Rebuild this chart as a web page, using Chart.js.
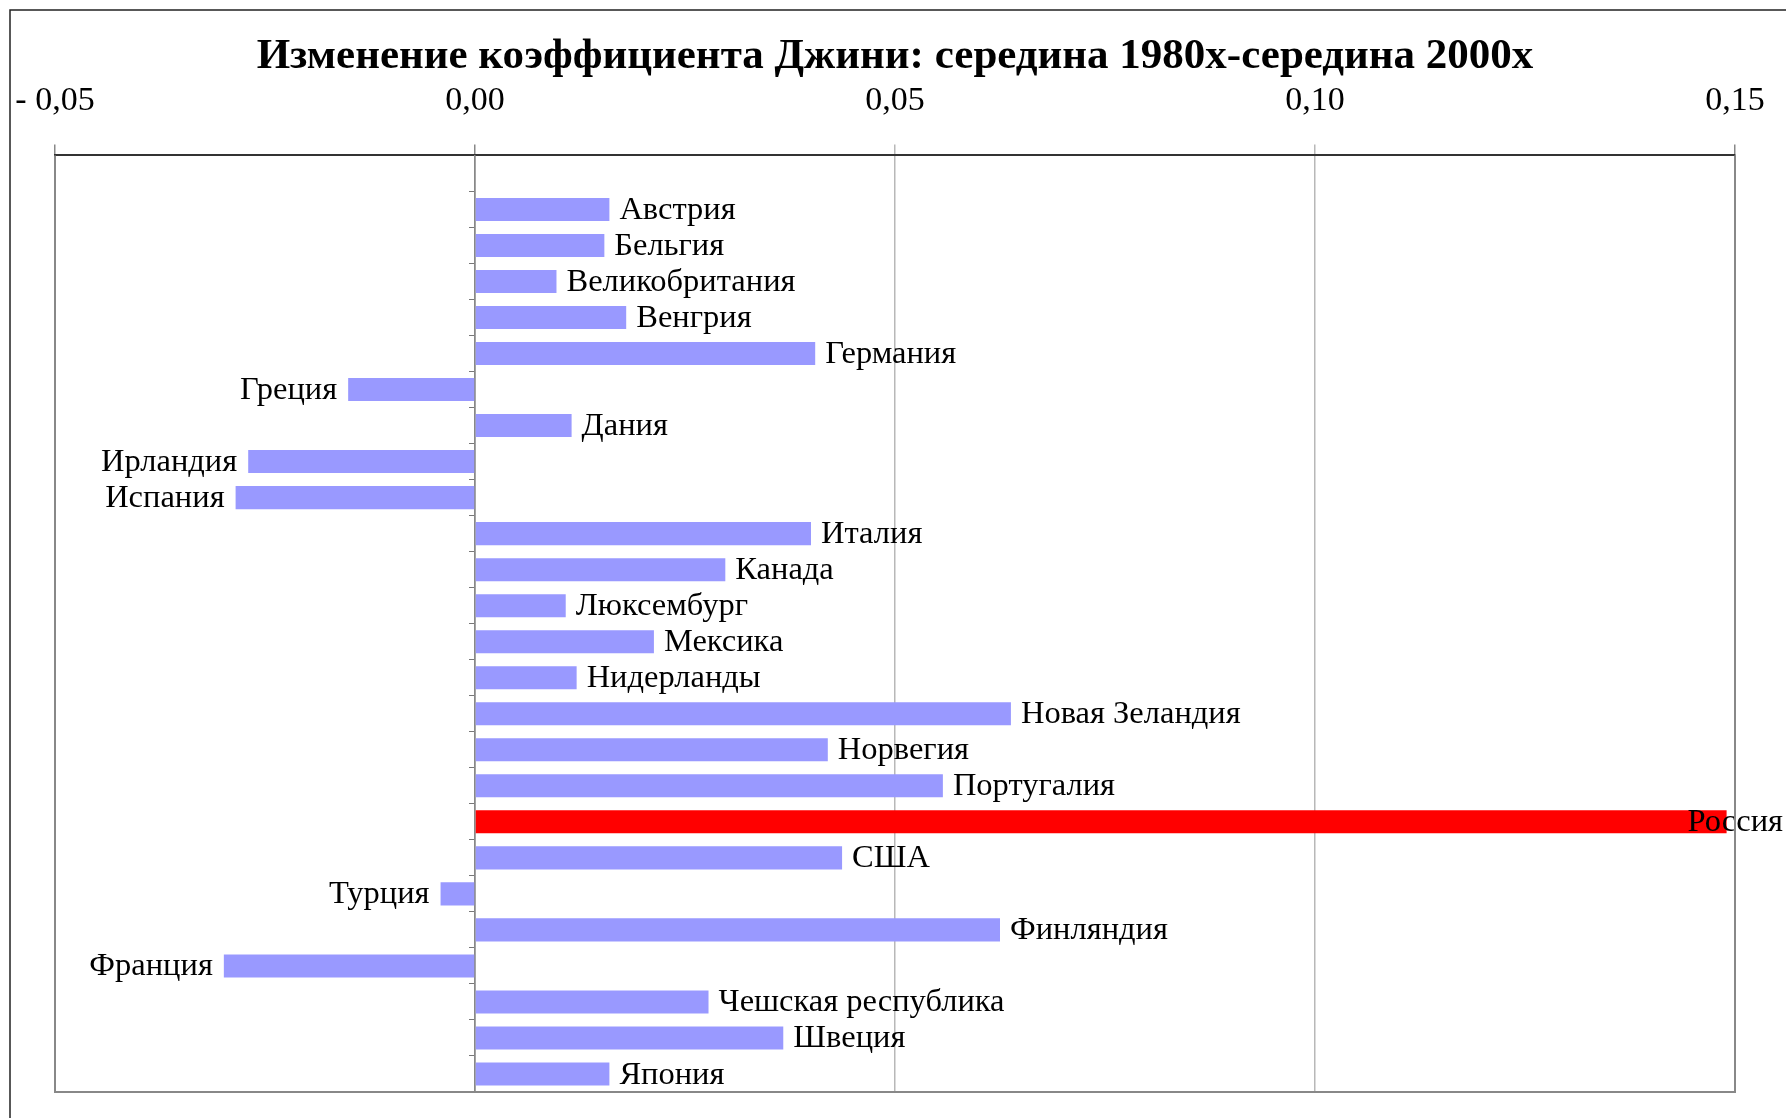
<!DOCTYPE html>
<html>
<head>
<meta charset="utf-8">
<script src="https://cdn.jsdelivr.net/npm/chart.js@4.4.1/dist/chart.umd.min.js"></script>
<style>
    body { margin: 0; background: #fff; }
    canvas { display: block; }
</style>
</head>
<body>
<canvas id="giniChart" width="1786" height="1118"></canvas>
<script>
const countries = ['Австрия', 'Бельгия', 'Великобритания', 'Венгрия', 'Германия', 'Греция', 'Дания',
    'Ирландия', 'Испания', 'Италия', 'Канада', 'Люксембург', 'Мексика', 'Нидерланды', 'Новая Зеландия',
    'Норвегия', 'Португалия', 'Россия', 'США', 'Турция', 'Финляндия', 'Франция', 'Чешская республика',
    'Швеция', 'Япония'];
const giniChange = [0.0160, 0.0154, 0.0097, 0.0180, 0.0405, -0.0151, 0.0115,
    -0.0270, -0.0285, 0.0400, 0.0298, 0.0108, 0.0213, 0.0121, 0.0638,
    0.0420, 0.0557, 0.1490, 0.0437, -0.0041, 0.0625, -0.0299, 0.0278,
    0.0367, 0.0160];
const tickLabels = ['- 0,05', '0,00', '0,05', '0,10', '0,15'];
const highlight = 'Россия';
const chartTitle = 'Изменение коэффициента Джини: середина 1980х-середина 2000х';

const serif = '"Liberation Serif", "Times New Roman", serif';

// first row of the chart is left empty, like in the original
const labels = [''].concat(countries);
const values = [null].concat(giniChange);
const colors = labels.map(c => c === highlight ? '#ff0000' : '#9999ff');

// white background + outer frame
const framePlugin = {
    id: 'framePlugin',
    beforeDraw(chart) {
        const c = chart.ctx;
        c.save();
        c.fillStyle = '#fff';
        c.fillRect(0, 0, chart.width, chart.height);
        c.strokeStyle = '#222';
        c.lineWidth = 1.5;
        c.strokeRect(10, 10, chart.width + 20, chart.height + 20);
        c.restore();
    },
    afterDraw(chart) {
        const a = chart.chartArea;
        const c = chart.ctx;
        c.save();
        c.strokeStyle = '#888';
        c.lineWidth = 2;
        c.beginPath();
        c.moveTo(a.left, a.top);
        c.lineTo(a.left, a.bottom);
        c.lineTo(a.right, a.bottom);
        c.lineTo(a.right, a.top);
        c.stroke();
        c.restore();
    }
};

// country names next to the bars
const barLabels = {
    id: 'barLabels',
    afterDatasetsDraw(chart) {
        const c = chart.ctx;
        const meta = chart.getDatasetMeta(0);
        c.save();
        c.font = '32.5px ' + serif;
        c.fillStyle = '#000';
        c.textBaseline = 'middle';
        meta.data.forEach((bar, i) => {
            const v = values[i];
            if (v === null) return;
            const txt = labels[i];
            if (v >= 0) {
                const w = c.measureText(txt).width;
                const x = Math.min(bar.x + 10, chart.width - w - 3);
                c.textAlign = 'left';
                c.fillText(txt, x, bar.y + 1);
            } else {
                c.textAlign = 'right';
                c.fillText(txt, bar.x - 11, bar.y + 1);
            }
        });
        c.restore();
    }
};

const ctx = document.getElementById('giniChart').getContext('2d');
const giniChart = new Chart(ctx, {
    type: 'bar',
    data: {
        labels: labels,
        datasets: [{
            data: values,
            backgroundColor: colors,
            borderWidth: 0,
            categoryPercentage: 1,
            barPercentage: 0.64
        }]
    },
    options: {
        indexAxis: 'y',
        responsive: false,
        animation: false,
        devicePixelRatio: 1,
        layout: {
            padding: { left: 55, right: 51, top: 0, bottom: 26 }
        },
        plugins: {
            legend: { display: false },
            tooltip: { enabled: false },
            title: {
                display: true,
                text: chartTitle,
                color: '#000',
                font: { family: serif, size: 43, weight: 'bold' },
                padding: { top: 31, bottom: -25 }
            }
        },
        scales: {
            x: {
                type: 'linear',
                position: 'top',
                min: -0.05,
                max: 0.15,
                // end labels may hang over the plot edges, don't shrink the plot for them
                afterFit: (scale) => {
                    scale.paddingLeft = 0;
                    scale.paddingRight = 0;
                },
                ticks: {
                    stepSize: 0.05,
                    color: '#000',
                    padding: 23,
                    font: { family: serif, size: 34 },
                    callback: (v, i) => tickLabels[i]
                },
                grid: {
                    color: (c) => {
                        const v = Math.round((c.tick ? c.tick.value : 0) * 100);
                        return (v === 0 || v === -5 || v === 15) ? '#888' : '#b8b8b8';
                    },
                    lineWidth: 1.5,
                    tickLength: 11
                },
                border: { color: '#333', width: 2 }
            },
            y: {
                type: 'category',
                position: { x: 0 },
                ticks: { display: false },
                grid: {
                    drawOnChartArea: false,
                    drawTicks: true,
                    tickLength: 5,
                    offset: true,
                    color: '#777'
                },
                border: { color: '#888', width: 1.5 }
            }
        }
    },
    plugins: [framePlugin, barLabels]
});
</script>
</body>
</html>
